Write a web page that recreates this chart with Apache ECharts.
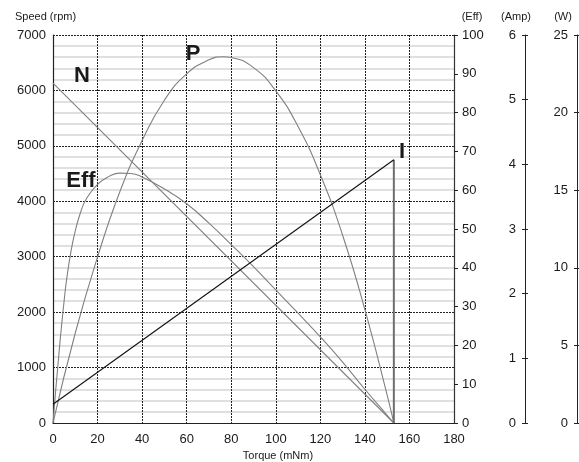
<!DOCTYPE html>
<html>
<head>
<meta charset="utf-8">
<script src="https://cdn.jsdelivr.net/npm/echarts@6/dist/echarts.min.js"></script>
<style>
html,body{margin:0;padding:0;background:#fff;}
#c{width:579px;height:462px;}
</style>
</head>
<body>
<div id="c"></div>
<script>
// ---- data ----
const torqueTicks = [0, 20, 40, 60, 80, 100, 120, 140, 160, 180];
const speedTorque = [0, 153];
const speedRpm = [6130, 0];
const currentTorque = [0, 153];
const currentAmp = [0.29, 4.07];
const stallTorque = [153, 153];
const stallAmp = [4.07, 0];
const powerTorque = [0, 10, 20, 30, 40, 50, 60, 70, 76.5, 80, 90, 100, 110, 120, 130, 140, 150, 153];
const powerW = [0, 5.8, 10.7, 14.9, 18.2, 20.8, 22.5, 23.4, 23.6, 23.55, 22.9, 21.4, 19.1, 16.0, 12.1, 7.3, 1.8, 0];
const effTorque = [0, 1, 2, 3, 4, 5, 6, 8, 10, 12.5, 15, 20, 25, 30, 35, 40, 50, 60, 70, 80, 90, 100, 110, 120, 130, 140, 150, 153];
const effPct = [0, 7, 13.5, 20, 26, 31.5, 36.5, 44, 49.5, 54.5, 57.8, 61.5, 63.5, 64.4, 64.3, 63.4, 60.3, 56.5, 51.5, 46, 40.3, 34.3, 28.3, 22.2, 15.7, 8.7, 2.0, 0];
const axisTitles = { speed: 'Speed (rpm)', eff: '(Eff)', amp: '(Amp)', watt: '(W)', torque: 'Torque (mNm)' };
const curveLabels = ['N', 'P', 'Eff', 'I'];

const zip = (a, b) => a.map((v, i) => [v, b[i]]);

const FAMILY = 'Liberation Sans';
const txt = '#1a1a1a';
const gray = '#808080';
const plain = v => String(v);

const chart = echarts.init(document.getElementById('c'), null, { renderer: 'canvas' });

function sideAxis(min, max, interval, offset, labelInside, tickInside, showLabel, showLine) {
  return {
    type: 'value', position: 'right', offset: offset, min: min, max: max, interval: interval,
    axisLine: { show: showLine, onZero: false, lineStyle: { color: '#222', width: 1 } },
    axisTick: { show: true, inside: tickInside, length: 3, lineStyle: { color: '#222' } },
    axisLabel: { show: showLabel, inside: labelInside, margin: 9, color: txt, fontSize: 13, fontFamily: FAMILY, formatter: plain },
    splitLine: { show: false }
  };
}

function smallText(x, y, text, align) {
  return { type: 'text', x: x, y: y, z: 10,
    style: { text: text, fontSize: 11, fontFamily: FAMILY, fill: txt, textAlign: align, textVerticalAlign: 'middle', align: align, verticalAlign: 'middle' } };
}
function bigText(x, y, text) {
  return { type: 'text', x: x, y: y, z: 10,
    style: { text: text, fontSize: 22, fontWeight: 'bold', fontFamily: FAMILY, fill: '#1a1a1a', textAlign: 'center', textVerticalAlign: 'middle', align: 'center', verticalAlign: 'middle' } };
}

const option = {
  animation: false,
  grid: { left: 53, right: 125, top: 35, bottom: 39, containLabel: false },
  xAxis: {
    type: 'value', min: 0, max: 180, interval: 20,
    axisLine: { show: true, onZero: false, lineStyle: { color: '#222', width: 1.2 } },
    axisTick: { show: false },
    axisLabel: { margin: 10, color: txt, fontSize: 13, fontFamily: FAMILY, formatter: plain },
    splitLine: { show: true, lineStyle: { color: '#222', type: [2, 1], width: 1 } }
  },
  yAxis: [
    {
      type: 'value', position: 'left', min: 0, max: 7000, interval: 1000,
      axisLine: { show: true, onZero: false, lineStyle: { color: '#222', width: 1.2 } },
      axisTick: { show: false },
      axisLabel: { margin: 7, color: txt, fontSize: 13, fontFamily: FAMILY, formatter: plain },
      splitLine: { show: true, lineStyle: { color: '#222', type: [2, 1], width: 1 } },
      minorTick: { show: false, splitNumber: 5 },
      minorSplitLine: { show: true, lineStyle: { color: '#d6d6d6', width: 1.5 } }
    },
    {
      type: 'value', position: 'right', offset: 0, min: 0, max: 100, interval: 10,
      axisLine: { show: true, onZero: false, lineStyle: { color: '#333', width: 1.2 } },
      axisTick: { show: true, inside: false, length: 4, lineStyle: { color: '#222' } },
      axisLabel: { margin: 8, color: txt, fontSize: 13, fontFamily: FAMILY, formatter: plain },
      splitLine: { show: false }
    },
    sideAxis(0, 6, 1, 71, true, false, true, true),
    sideAxis(0, 25, 5, 123, true, false, true, true),
    sideAxis(0, 6, 1, 71, true, true, false, false),
    sideAxis(0, 25, 5, 123, true, true, false, false)
  ],
  series: [
    { name: 'N', type: 'line', yAxisIndex: 0, data: zip(speedTorque, speedRpm), showSymbol: false,
      lineStyle: { color: gray, width: 1.1 }, z: 3 },
    { name: 'Eff', type: 'line', yAxisIndex: 1, data: zip(effTorque, effPct), showSymbol: false,
      smooth: 0.5, lineStyle: { color: gray, width: 1.1 }, z: 3 },
    { name: 'P', type: 'line', yAxisIndex: 3, data: zip(powerTorque, powerW), showSymbol: false,
      smooth: 0.5, lineStyle: { color: gray, width: 1.1 }, z: 3 },
    { name: 'I', type: 'line', yAxisIndex: 2, data: zip(currentTorque, currentAmp), showSymbol: false,
      lineStyle: { color: '#111', width: 1.1 }, z: 4 },
    { name: 'stall', type: 'line', yAxisIndex: 2, data: zip(stallTorque, stallAmp), showSymbol: false,
      lineStyle: { color: '#6e6e6e', width: 2 }, z: 3 }
  ],
  graphic: [
    smallText(15, 17, axisTitles.speed, 'left'),
    smallText(472, 17, axisTitles.eff, 'center'),
    smallText(516, 17, axisTitles.amp, 'center'),
    smallText(563, 17, axisTitles.watt, 'center'),
    smallText(278, 456, axisTitles.torque, 'center'),
    bigText(82, 76, curveLabels[0]),
    bigText(193, 54, curveLabels[1]),
    bigText(81, 181, curveLabels[2]),
    bigText(402, 152, curveLabels[3])
  ]
};
chart.setOption(option);
</script>
</body>
</html>
